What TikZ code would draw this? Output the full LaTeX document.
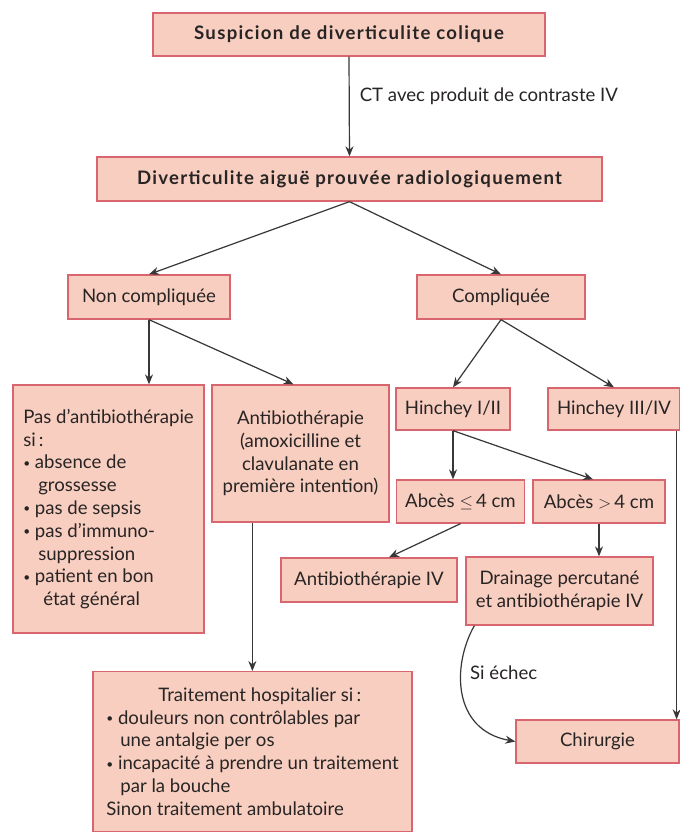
\documentclass[tikz,border=0pt]{standalone}
\usepackage{fontspec}
\setmainfont{Lato}
\usetikzlibrary{arrows.meta,calc}
\definecolor{boxfill}{RGB}{247,206,192}
\definecolor{boxline}{RGB}{217,102,110}
\definecolor{txt}{RGB}{40,36,36}
\definecolor{arr}{RGB}{55,55,55}
\newcommand{\bul}{\raisebox{1.5pt}{\fontsize{12}{12}\selectfont•}\ }
\begin{document}
\begin{tikzpicture}[x=1pt,y=-1pt,
  box/.style={draw=boxline,fill=boxfill,line width=1.3pt,text=txt,inner xsep=9pt,inner ysep=0pt,
    font=\fontsize{18.6}{22.8}\selectfont},
  bbox/.style={box,font=\fontsize{18.6}{22.8}\selectfont\bfseries\addfontfeature{LetterSpace=7}},
  conn/.style={draw=arr,line width=1.2pt,-{Stealth[length=10pt,width=8pt]}},
  lbl/.style={text=txt,font=\fontsize{18.6}{22.8}\selectfont,inner sep=0pt}]
\useasboundingbox (0,0) rectangle (680,836);
\fill[white] (0,0) rectangle (680,836);

\node[bbox,minimum width=392pt,minimum height=43pt] (sus) at (349,34.5) {Suspicion de diverticulite colique};
\node[bbox,minimum width=505pt,minimum height=44pt] (div) at (349.5,179) {Diverticulite aiguë prouvée radiologiquement};
\node[box,minimum width=162pt,minimum height=44pt] (nc) at (149,297) {Non compliquée};
\node[box,minimum width=168pt,minimum height=44pt] (comp) at (501,297) {Compliquée};
\node[box,minimum width=191pt,minimum height=248pt,align=left] (pas) at (108.5,509) {Pas d’antibiothérapie\\si\,:\\\bul absence de\\\hspace*{15pt}grossesse\\\bul pas de sepsis\\\bul pas d’immuno-\\\hspace*{15pt}suppression\\\bul patient en bon\\\hspace*{20pt}état général};
\node[box,minimum width=177pt,minimum height=137pt,align=center] (ab) at (300.5,453.5) {Antibiothérapie\\(amoxicilline et\\clavulanate en\\première intention)};
\node[box,minimum width=110pt,minimum height=42pt] (h12) at (453,409) {Hinchey I/II};
\node[box,minimum width=130pt,minimum height=42pt] (h34) at (614,409) {Hinchey III/IV};
\node[box,minimum width=125pt,minimum height=43pt] (a4) at (460.5,501.5) {Abcès $\leq$\,4 cm};
\node[box,minimum width=132pt,minimum height=43pt] (a4g) at (599,501.5) {Abcès $>$\,4 cm};
\node[box,minimum width=176pt,minimum height=44pt] (abiv) at (369,580) {Antibiothérapie IV};
\node[box,minimum width=187pt,minimum height=68pt,align=center] (drain) at (559.5,591) {Drainage percutané\\et antibiothérapie IV};
\node[box,minimum width=319pt,anchor=north,inner ysep=16pt,align=left] (trait) at (252.5,671) {\hspace*{52pt}Traitement hospitalier si\,:\\\bul douleurs non contrôlables par\\\hspace*{14pt}une antalgie per os\\\bul incapacité à prendre un traitement\\\hspace*{14pt}par la bouche\\Sinon traitement ambulatoire};
\node[box,minimum width=163pt,minimum height=43pt] (chir) at (597.5,741.5) {Chirurgie};

\draw[conn] (sus.south) -- (div.north) node[lbl,pos=0.4,anchor=west,xshift=10pt] (ct) {CT avec produit de contraste IV};
\draw[conn] (div.south) -- (nc.north);
\draw[conn] (div.south) -- (comp.north);
\draw[conn] (nc.south) -- (nc.south |- pas.north);
\draw[conn] (nc.south) -- ([xshift=-7pt]ab.north);
\draw[conn] (comp.south) -- (h12.north);
\draw[conn] (comp.south) -- (h34.north);
\draw[conn] (h12.south) -- (h12.south |- a4.north);
\draw[conn] (h12.south) -- ([xshift=-6pt]a4g.north);
\draw[conn] (a4.south) -- ([xshift=20pt]abiv.north);
\draw[conn] (a4g.south) -- (a4g.south |- drain.north);
\draw[conn] ([xshift=41pt]ab.south west) -- ([xshift=41pt]ab.south west |- trait.north);
\draw[conn] ([xshift=-4pt]h34.south east) -- ([xshift=-4pt]h34.south east |- chir.north);
\draw[conn] ([xshift=9pt]drain.south west) .. controls (452,665) and (452,730) .. (chir.west);
\node[lbl,anchor=west] (echec) at (470,673) {Si échec};
\end{tikzpicture}
\end{document}
